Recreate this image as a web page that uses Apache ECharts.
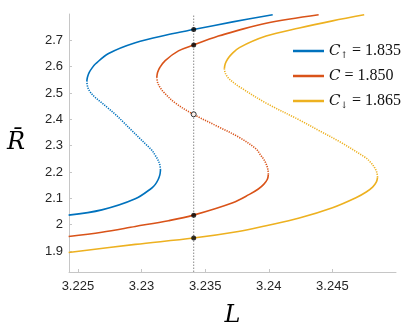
<!DOCTYPE html>
<html>
<head>
<meta charset="utf-8">
<script src="https://cdn.jsdelivr.net/npm/echarts@6/dist/echarts.min.js"></script>
<style>
    html, body { margin: 0; padding: 0; background: #fff; }
    #chart { width: 407px; height: 333px; }
</style>
</head>
<body>
<div id="chart"></div>
<script>
// 坐标轴刻度
const xTicks = [3.225, 3.23, 3.235, 3.24, 3.245]
const yTicks = [1.9, 2, 2.1, 2.2, 2.3, 2.4, 2.5, 2.6, 2.7]

// 三条曲线：下支(实线) / 中支(虚线) / 上支(实线)，点为 [L, R]
const blueLower = [[3.22427, 2.036], [3.22688, 2.056], [3.22951, 2.098], [3.23081, 2.139], [3.23107, 2.1519], [3.23130, 2.1705], [3.23144, 2.1891], [3.23149, 2.2077]]
const blueMid = [[3.23149, 2.2077], [3.23144, 2.2264], [3.23130, 2.2450], [3.23107, 2.2636], [3.23082, 2.2822], [3.23039, 2.3027], [3.22984, 2.3287], [3.22921, 2.3585], [3.22859, 2.3883], [3.22796, 2.4181], [3.22733, 2.4442], [3.22678, 2.4665], [3.22632, 2.4851], [3.22597, 2.5037], [3.22577, 2.5223], [3.22570, 2.5443]]
const blueUpper = [[3.22570, 2.5443], [3.22575, 2.5596], [3.22589, 2.5782], [3.22614, 2.5968], [3.22637, 2.610], [3.22741, 2.650], [3.22951, 2.691], [3.23212, 2.722], [3.23408, 2.741], [3.23717, 2.770], [3.24031, 2.797]]

const orangeLower = [[3.22427, 1.955], [3.22688, 1.971], [3.22951, 1.993], [3.23212, 2.015], [3.23408, 2.036], [3.23717, 2.083], [3.23848, 2.1147], [3.23918, 2.1352], [3.23962, 2.1538], [3.23989, 2.1724], [3.23997, 2.191]]
const orangeMid = [[3.23997, 2.191], [3.23993, 2.2096], [3.23981, 2.2282], [3.23962, 2.2468], [3.23934, 2.2654], [3.23900, 2.2878], [3.23769, 2.331], [3.23612, 2.3697], [3.23408, 2.419], [3.23265, 2.462], [3.23173, 2.5037], [3.23144, 2.5224], [3.23126, 2.5410], [3.23120, 2.5596]]
const orangeUpper = [[3.23120, 2.5596], [3.23126, 2.5782], [3.23144, 2.5968], [3.23186, 2.6232], [3.23290, 2.660], [3.23408, 2.682], [3.23604, 2.716], [3.23738, 2.735], [3.23979, 2.765], [3.24392, 2.797]]

const yellowLower = [[3.22427, 1.894], [3.22951, 1.9248], [3.23408, 1.949], [3.23761, 1.974], [3.23979, 1.996], [3.24240, 2.025], [3.24501, 2.064], [3.24685, 2.102], [3.24766, 2.124], [3.24816, 2.1426], [3.24845, 2.1612], [3.24855, 2.1798]]
const yellowMid = [[3.24855, 2.1798], [3.24849, 2.1984], [3.24831, 2.217], [3.24802, 2.2357], [3.24761, 2.2543], [3.24554, 2.3157], [3.24397, 2.3567], [3.24240, 2.3976], [3.23979, 2.4616], [3.23769, 2.5235], [3.23731, 2.5361], [3.23687, 2.5547], [3.23660, 2.5733], [3.23651, 2.5920]]
const yellowUpper = [[3.23651, 2.5920], [3.23658, 2.6106], [3.23677, 2.6292], [3.23708, 2.6478], [3.23769, 2.6724], [3.23979, 2.716], [3.24240, 2.747], [3.24501, 2.774], [3.24750, 2.797]]

// 竖直参考线及交点
const markerL = 3.2341
const filledR = [2.741, 2.682, 2.036, 1.949]
const openR = [2.419]

// 图例
const cArrows = ['↑', '', '↓']
const cValues = ['1.835', '1.850', '1.865']
const colors = ['#0072BD', '#D95319', '#EDB120']

const legendNames = cValues.map((v, i) => `C${cArrows[i]} = ${v}`)

const branchSeries = (name, data, color, dotted) => ({
    name,
    type: 'line',
    data,
    color,
    smooth: 0.35,
    symbol: 'none',
    silent: true,
    itemStyle: { color },
    lineStyle: { color, width: 1.6, type: dotted ? [1.2, 1.2] : 'solid' },
    z: 3,
})

const curves = [
    [blueLower, blueMid, blueUpper],
    [orangeLower, orangeMid, orangeUpper],
    [yellowLower, yellowMid, yellowUpper],
]

let series = []
curves.forEach((c, i) => {
    series.push(branchSeries(legendNames[i], c[0], colors[i], false))
    series.push(branchSeries(`mid${i}`, c[1], colors[i], true))
    series.push(branchSeries(`up${i}`, c[2], colors[i], false))
})

series.push({
    name: 'marker',
    type: 'line',
    data: [[markerL, 1.82], [markerL, 2.8]],
    symbol: 'none',
    silent: true,
    lineStyle: { color: '#8c8c8c', width: 1, type: [1.5, 1.5] },
    z: 2,
})
series.push({
    name: 'filled',
    type: 'scatter',
    data: filledR.map(r => [markerL, r]),
    symbol: 'circle',
    symbolSize: 5,
    itemStyle: { color: '#000' },
    z: 5,
})
series.push({
    name: 'open',
    type: 'scatter',
    data: openR.map(r => [markerL, r]),
    symbol: 'circle',
    symbolSize: 5,
    itemStyle: { color: '#fff', borderColor: '#000', borderWidth: 1 },
    z: 5,
})

const tickFont = { color: '#262626', fontSize: 13, fontFamily: 'Liberation Sans, Arial, sans-serif' }
const axisGray = '#c6c6c6'

const option = {
    animation: false,
    grid: { left: 69, right: 11, top: 14, bottom: 58 },
    legend: {
        data: legendNames,
        orient: 'vertical',
        left: 288,
        top: 37,
        icon: 'rect',
        itemWidth: 31,
        itemHeight: 2.5,
        itemGap: 8,
        selectedMode: false,
        formatter: (name) => {
            const i = legendNames.indexOf(name)
            const sub = cArrows[i] ? `{s|${cArrows[i]}}` : ''
            return `{i|C}${sub}{t| = ${cValues[i]}}`
        },
        textStyle: {
            rich: {
                i: { fontFamily: 'DejaVu Serif', fontStyle: 'italic', fontSize: 15, color: '#111', lineHeight: 18 },
                s: { fontFamily: 'DejaVu Serif', fontSize: 9, color: '#111', padding: [9, 0, 0, 0], lineHeight: 18 },
                t: { fontFamily: 'Liberation Serif', fontSize: 16, color: '#111', lineHeight: 18 },
            },
        },
    },
    xAxis: {
        type: 'value',
        min: 3.2243,
        max: 3.25,
        name: 'L',
        nameLocation: 'middle',
        nameGap: 32,
        nameTextStyle: { fontFamily: 'DejaVu Serif', fontStyle: 'italic', fontSize: 24, color: '#000' },
        axisLine: { lineStyle: { color: axisGray, width: 1 } },
        axisTick: { inside: true, length: 3, customValues: xTicks, lineStyle: { color: axisGray } },
        axisLabel: { customValues: xTicks, margin: 8, formatter: v => String(+v.toFixed(3)), ...tickFont },
        splitLine: { show: false },
    },
    yAxis: {
        type: 'value',
        min: 1.82,
        max: 2.8,
        name: 'R\u0304',
        nameLocation: 'middle',
        nameRotate: 0,
        nameGap: 44,
        nameTextStyle: { fontFamily: 'DejaVu Serif', fontStyle: 'italic', fontSize: 24, color: '#000' },
        axisLine: { show: true, lineStyle: { color: axisGray, width: 1 } },
        axisTick: { show: true, inside: true, length: 3, customValues: yTicks, lineStyle: { color: axisGray } },
        axisLabel: { customValues: yTicks, margin: 6, formatter: v => String(+v.toFixed(1)), ...tickFont },
        splitLine: { show: false },
    },
    series,
}

const myChart = echarts.init(document.getElementById('chart'))
myChart.setOption(option)
</script>
</body>
</html>
